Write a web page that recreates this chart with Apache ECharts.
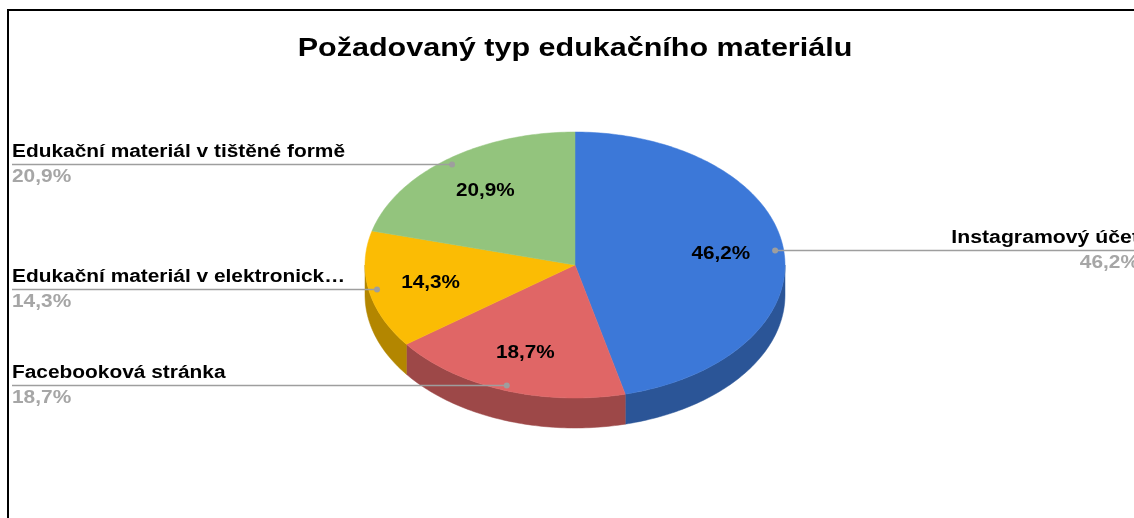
<!DOCTYPE html>
<html>
<head>
<meta charset="utf-8">
<script src="https://cdn.jsdelivr.net/npm/echarts@6/dist/echarts.min.js"></script>
<style>
html,body{margin:0;padding:0;background:#fff;}
#main{width:1134px;height:518px;}
</style>
</head>
<body>
<div id="main"></div>
<script>
// ---- data ----
const categories = ['Instagramový účet', 'Facebooková stránka', 'Edukační materiál v elektronick…', 'Edukační materiál v tištěné formě'];
const values = [46.2, 18.7, 14.3, 20.9];
const valueLabels = ['46,2%', '18,7%', '14,3%', '20,9%'];
const topColors = ['#3c78d8', '#e06666', '#fbbc04', '#93c47d'];
const sideColors = ['#2b5597', '#9d4848', '#b38600', '#6a8d5a'];
const titleText = 'Požadovaný typ edukačního materiálu';

// ---- layout ----
const CX = 575, CY = 265, RX = 210, RY = 133, DEPTH = 30;
const FONT = '"Liberation Sans", Arial, sans-serif';
const SX = 1.16;
const total = values.reduce((a, b) => a + b, 0);
const starts = [];
values.reduce((acc, v, i) => { starts[i] = acc; return acc + v; }, 0);

function pt(deg, f, dy) {
  const r = deg * Math.PI / 180;
  return [CX + RX * f * Math.sin(r), CY - RY * f * Math.cos(r) + (dy || 0)];
}
function arc(a, b, f, dy) {
  const pts = [];
  const n = Math.max(2, Math.ceil(Math.abs(b - a) / 1));
  for (let k = 0; k <= n; k++) pts.push(pt(a + (b - a) * k / n, f, dy));
  return pts;
}

function renderItem(params, api) {
  const i = params.dataIndex;
  const v = api.value(0);
  const a = starts[i] / total * 360;
  const b = a + v / total * 360;
  const mid = (a + b) / 2;
  const children = [];
  // side wall (front half only)
  const sa = Math.max(a, 90), sb = Math.min(b, 270);
  if (sa < sb) {
    const pts = arc(sa, sb, 1, 0).concat(arc(sb, sa, 1, DEPTH));
    children.push({ type: 'polygon', z2: 1, shape: { points: pts },
      style: { fill: sideColors[i], stroke: sideColors[i], lineWidth: 0.5 } });
  }
  // top face
  const topPts = [[CX, CY]].concat(arc(a, b, 1, 0));
  children.push({ type: 'polygon', z2: 2, shape: { points: topPts },
    style: { fill: topColors[i], stroke: topColors[i], lineWidth: 0.5 } });
  // inside label
  const ip = pt(mid, 0.7, 0);
  children.push({ type: 'text', z2: 5, x: ip[0], y: ip[1], scaleX: 1.15,
    style: { text: valueLabels[i], fill: '#000', font: 'bold 18px ' + FONT, align: 'center', verticalAlign: 'middle' } });
  // leader line and outside label
  const dp = pt(mid, 0.96, 0);
  const left = mid > 180;
  const xEnd = left ? 12 : 1150;
  const ly = Math.round(dp[1]) + 0.5;
  children.push({ type: 'line', z2: 3, shape: { x1: dp[0], y1: ly, x2: xEnd, y2: ly },
    style: { stroke: '#9e9e9e', lineWidth: 1.5 } });
  children.push({ type: 'circle', z2: 4, shape: { cx: dp[0], cy: ly, r: 3 },
    style: { fill: '#9e9e9e' } });
  const tx = left ? 12 : 1139;
  children.push({ type: 'text', z2: 5, x: tx, y: ly - 3, scaleX: left ? SX : 1.18,
    style: { text: categories[i], fill: '#000', font: 'bold 18px ' + FONT, align: left ? 'left' : 'right', verticalAlign: 'bottom' } });
  children.push({ type: 'text', z2: 5, x: tx, y: ly + 4, scaleX: SX,
    style: { text: valueLabels[i], fill: '#a6a6a6', font: 'bold 18px ' + FONT, align: left ? 'left' : 'right', verticalAlign: 'top' } });
  return { type: 'group', children: children };
}

const chart = echarts.init(document.getElementById('main'), null, { renderer: 'canvas' });
chart.setOption({
  animation: false,
  backgroundColor: '#fff',
  graphic: [{
    type: 'rect', shape: { x: 8, y: 10, width: 1400, height: 800 },
    style: { fill: null, stroke: '#000', lineWidth: 2 }, silent: true
  }, {
    type: 'text', x: 575, y: 48.5, scaleX: 1.174, silent: true,
    style: { text: titleText, fill: '#000', font: 'bold 26px ' + FONT, align: 'center', verticalAlign: 'middle' }
  }],
  series: [{
    type: 'custom',
    coordinateSystem: 'none',
    renderItem: renderItem,
    data: values
  }]
});
</script>
</body>
</html>
